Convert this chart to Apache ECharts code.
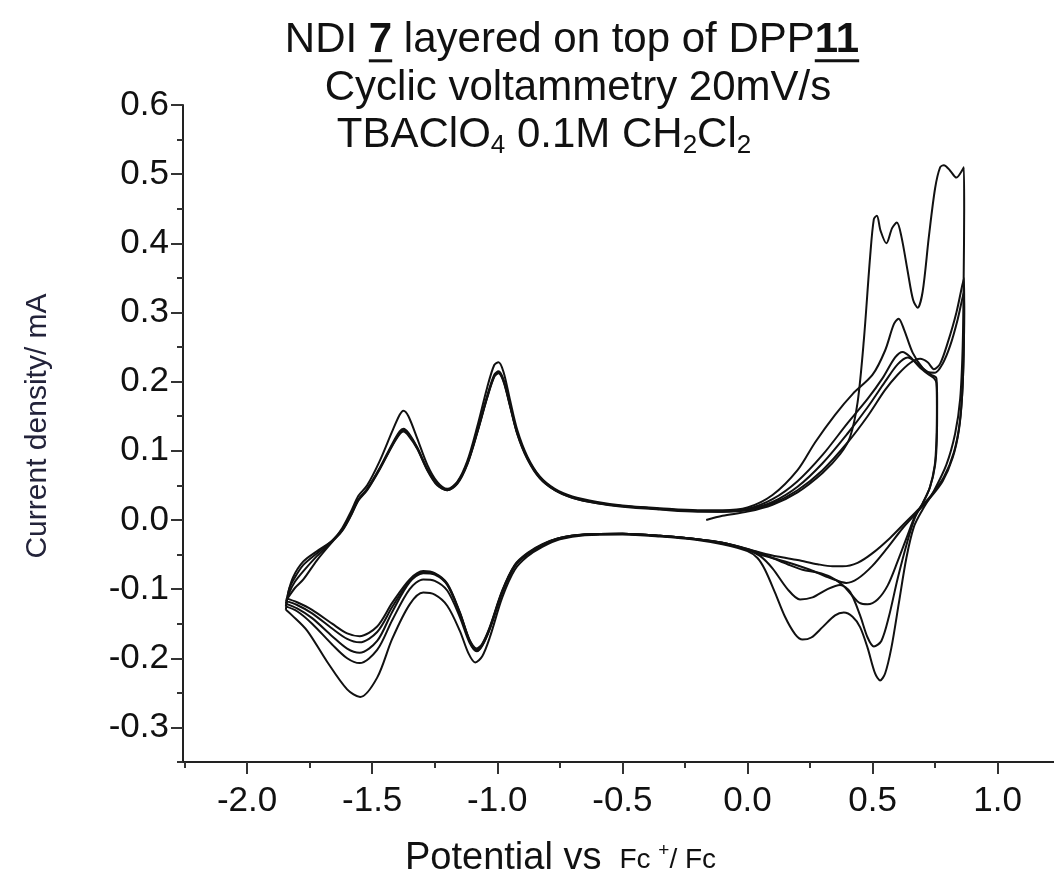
<!DOCTYPE html>
<html><head><meta charset="utf-8">
<script src="https://cdn.jsdelivr.net/npm/echarts@6/dist/echarts.min.js"></script>
<style>html,body{margin:0;padding:0;background:#fff}#chart{width:1054px;height:885px}</style>
</head><body><div id="chart"></div>
<script>
// ---------- tick values ----------
const xTicks = [-2.0, -1.5, -1.0, -0.5, 0.0, 0.5, 1.0];
const xMinorTicks = [-2.25, -1.75, -1.25, -0.75, -0.25, 0.25, 0.75];
const yTicks = [-0.3, -0.2, -0.1, 0.0, 0.1, 0.2, 0.3, 0.4, 0.5, 0.6];
const yMinorTicks = [-0.35, -0.25, -0.15, -0.05, 0.05, 0.15, 0.25, 0.35, 0.45, 0.55];

// ---------- cycle 1 ----------
const c1Forward = [[-0.165,0.000],[-0.10,0.006],[0.00,0.012],[0.10,0.022],[0.20,0.040],[0.30,0.068],[0.37,0.095],[0.41,0.120],[0.44,0.170],[0.465,0.260],[0.49,0.380],[0.505,0.435],[0.517,0.440],[0.532,0.418],[0.555,0.400],[0.578,0.422],[0.597,0.430],[0.615,0.410],[0.64,0.360],[0.662,0.318],[0.680,0.307],[0.700,0.330],[0.725,0.410],[0.750,0.480],[0.770,0.510],[0.785,0.513],[0.810,0.505],[0.835,0.495],[0.852,0.502],[0.865,0.510]];
const c1Reverse = [[0.866,0.45],[0.864,0.35],[0.860,0.25],[0.850,0.175],[0.830,0.125],[0.795,0.080],[0.745,0.042],[0.700,0.015],[0.665,-0.010],[0.635,-0.055],[0.605,-0.120],[0.575,-0.185],[0.550,-0.222],[0.530,-0.232],[0.510,-0.222],[0.480,-0.185],[0.450,-0.155],[0.420,-0.140],[0.385,-0.134],[0.350,-0.138],[0.300,-0.155],[0.255,-0.170],[0.220,-0.173],[0.190,-0.165],[0.150,-0.140],[0.110,-0.105],[0.070,-0.072],[0.040,-0.055],[0.000,-0.045],[-0.10,-0.035],[-0.20,-0.029],[-0.35,-0.024],[-0.50,-0.021],[-0.65,-0.022],[-0.75,-0.028],[-0.82,-0.039],[-0.88,-0.053],[-0.93,-0.072],[-0.98,-0.112],[-1.03,-0.170],[-1.06,-0.197],[-1.088,-0.206],[-1.115,-0.193],[-1.15,-0.160],[-1.20,-0.124],[-1.25,-0.108],[-1.296,-0.105],[-1.35,-0.122],[-1.42,-0.172],[-1.48,-0.228],[-1.548,-0.256],[-1.60,-0.245],[-1.68,-0.205],[-1.76,-0.160],[-1.82,-0.138],[-1.845,-0.130]];

// ---------- cycle 2 ----------
const c2Forward = [[-1.845,-0.130],[-1.835,-0.105],[-1.815,-0.082],[-1.775,-0.060],[-1.72,-0.045],[-1.66,-0.030],[-1.62,-0.012],[-1.585,0.012],[-1.555,0.035],[-1.52,0.050],[-1.47,0.085],[-1.42,0.128],[-1.39,0.152],[-1.375,0.158],[-1.355,0.150],[-1.32,0.118],[-1.28,0.080],[-1.24,0.055],[-1.20,0.045],[-1.16,0.055],[-1.12,0.085],[-1.08,0.135],[-1.04,0.192],[-1.012,0.224],[-0.995,0.228],[-0.975,0.214],[-0.95,0.175],[-0.92,0.130],[-0.88,0.092],[-0.83,0.063],[-0.77,0.045],[-0.70,0.034],[-0.60,0.026],[-0.50,0.021],[-0.35,0.017],[-0.20,0.014],[-0.10,0.014],[0.00,0.018],[0.10,0.036],[0.20,0.072],[0.27,0.112],[0.35,0.152],[0.42,0.182],[0.50,0.210],[0.55,0.245],[0.585,0.283],[0.604,0.291],[0.625,0.276],[0.66,0.242],[0.70,0.220],[0.735,0.210],[0.755,0.205]];
const c2Reverse = [[0.758,0.170],[0.757,0.120],[0.750,0.080],[0.730,0.048],[0.700,0.024],[0.670,0.004],[0.640,-0.030],[0.600,-0.085],[0.565,-0.140],[0.535,-0.175],[0.505,-0.183],[0.480,-0.170],[0.450,-0.138],[0.410,-0.104],[0.370,-0.094],[0.320,-0.100],[0.260,-0.112],[0.210,-0.115],[0.160,-0.100],[0.100,-0.070],[0.050,-0.052],[0.000,-0.043],[-0.10,-0.034],[-0.20,-0.028],[-0.35,-0.023],[-0.50,-0.020],[-0.65,-0.021],[-0.75,-0.027],[-0.82,-0.037],[-0.88,-0.050],[-0.93,-0.067],[-0.98,-0.105],[-1.03,-0.158],[-1.06,-0.182],[-1.082,-0.190],[-1.11,-0.178],[-1.15,-0.140],[-1.20,-0.102],[-1.25,-0.088],[-1.296,-0.086],[-1.35,-0.100],[-1.42,-0.145],[-1.48,-0.188],[-1.55,-0.207],[-1.60,-0.200],[-1.66,-0.180],[-1.74,-0.150],[-1.80,-0.132],[-1.845,-0.125]];

// ---------- cycle 3 ----------
const c3Forward = [[-1.845,-0.125],[-1.832,-0.100],[-1.812,-0.085],[-1.775,-0.065],[-1.72,-0.048],[-1.66,-0.030],[-1.62,-0.014],[-1.585,0.008],[-1.555,0.030],[-1.52,0.045],[-1.47,0.075],[-1.42,0.110],[-1.39,0.128],[-1.375,0.132],[-1.355,0.126],[-1.32,0.105],[-1.28,0.074],[-1.24,0.052],[-1.20,0.044],[-1.16,0.054],[-1.12,0.082],[-1.08,0.128],[-1.04,0.180],[-1.012,0.210],[-0.995,0.215],[-0.975,0.203],[-0.95,0.168],[-0.92,0.126],[-0.88,0.090],[-0.83,0.062],[-0.77,0.044],[-0.70,0.033],[-0.60,0.025],[-0.50,0.020],[-0.35,0.016],[-0.20,0.013],[-0.10,0.013],[0.00,0.016],[0.10,0.030],[0.20,0.056],[0.30,0.094],[0.40,0.140],[0.48,0.175],[0.54,0.205],[0.59,0.235],[0.62,0.243],[0.65,0.236],[0.69,0.220],[0.725,0.210],[0.745,0.205],[0.755,0.198]];
const c3Reverse = [[0.757,0.165],[0.755,0.115],[0.748,0.078],[0.728,0.046],[0.700,0.024],[0.670,0.006],[0.640,-0.022],[0.600,-0.060],[0.560,-0.095],[0.520,-0.115],[0.480,-0.122],[0.448,-0.120],[0.420,-0.110],[0.380,-0.094],[0.330,-0.082],[0.280,-0.076],[0.220,-0.072],[0.160,-0.064],[0.100,-0.055],[0.050,-0.048],[0.000,-0.042],[-0.10,-0.033],[-0.20,-0.028],[-0.35,-0.023],[-0.50,-0.020],[-0.65,-0.021],[-0.75,-0.026],[-0.82,-0.036],[-0.88,-0.049],[-0.93,-0.066],[-0.98,-0.104],[-1.03,-0.157],[-1.06,-0.181],[-1.082,-0.189],[-1.11,-0.176],[-1.15,-0.135],[-1.20,-0.094],[-1.25,-0.079],[-1.296,-0.077],[-1.35,-0.090],[-1.42,-0.133],[-1.48,-0.175],[-1.55,-0.192],[-1.60,-0.186],[-1.66,-0.168],[-1.74,-0.142],[-1.80,-0.128],[-1.845,-0.121]];

// ---------- cycle 4 ----------
const c4Forward = [[-1.845,-0.121],[-1.830,-0.104],[-1.810,-0.090],[-1.775,-0.074],[-1.72,-0.052],[-1.66,-0.031],[-1.62,-0.015],[-1.585,0.007],[-1.555,0.029],[-1.52,0.044],[-1.47,0.074],[-1.42,0.108],[-1.39,0.126],[-1.375,0.130],[-1.355,0.124],[-1.32,0.104],[-1.28,0.073],[-1.24,0.051],[-1.20,0.043],[-1.16,0.053],[-1.12,0.081],[-1.08,0.127],[-1.04,0.178],[-1.012,0.208],[-0.995,0.213],[-0.975,0.201],[-0.95,0.167],[-0.92,0.125],[-0.88,0.089],[-0.83,0.061],[-0.77,0.043],[-0.70,0.032],[-0.60,0.024],[-0.50,0.020],[-0.35,0.016],[-0.20,0.013],[-0.10,0.012],[0.00,0.015],[0.10,0.026],[0.20,0.048],[0.30,0.082],[0.40,0.125],[0.48,0.163],[0.55,0.200],[0.60,0.225],[0.64,0.235],[0.68,0.226],[0.72,0.214],[0.75,0.213],[0.78,0.226],[0.81,0.252],[0.84,0.290],[0.865,0.330]];
const c4Reverse = [[0.866,0.30],[0.864,0.24],[0.858,0.18],[0.845,0.13],[0.820,0.090],[0.780,0.056],[0.730,0.032],[0.680,0.012],[0.620,-0.012],[0.560,-0.040],[0.500,-0.066],[0.440,-0.085],[0.395,-0.091],[0.330,-0.084],[0.250,-0.072],[0.150,-0.060],[0.050,-0.050],[0.000,-0.043],[-0.10,-0.033],[-0.20,-0.028],[-0.35,-0.023],[-0.50,-0.020],[-0.65,-0.021],[-0.75,-0.026],[-0.82,-0.036],[-0.88,-0.049],[-0.93,-0.066],[-0.98,-0.103],[-1.03,-0.156],[-1.06,-0.180],[-1.082,-0.188],[-1.11,-0.175],[-1.15,-0.134],[-1.20,-0.093],[-1.25,-0.078],[-1.296,-0.076],[-1.35,-0.088],[-1.42,-0.126],[-1.48,-0.162],[-1.55,-0.177],[-1.60,-0.172],[-1.66,-0.157],[-1.74,-0.135],[-1.80,-0.123],[-1.845,-0.117]];

// ---------- cycle 5 ----------
const c5Forward = [[-1.845,-0.117],[-1.828,-0.108],[-1.808,-0.098],[-1.775,-0.086],[-1.72,-0.058],[-1.66,-0.032],[-1.62,-0.016],[-1.585,0.006],[-1.555,0.028],[-1.52,0.043],[-1.47,0.073],[-1.42,0.107],[-1.39,0.124],[-1.375,0.128],[-1.355,0.122],[-1.32,0.103],[-1.28,0.072],[-1.24,0.050],[-1.20,0.043],[-1.16,0.052],[-1.12,0.080],[-1.08,0.126],[-1.04,0.177],[-1.012,0.207],[-0.995,0.212],[-0.975,0.200],[-0.95,0.166],[-0.92,0.124],[-0.88,0.088],[-0.83,0.060],[-0.77,0.043],[-0.70,0.032],[-0.60,0.024],[-0.50,0.019],[-0.35,0.015],[-0.20,0.012],[-0.10,0.012],[0.00,0.014],[0.10,0.024],[0.20,0.043],[0.30,0.072],[0.40,0.112],[0.48,0.150],[0.55,0.188],[0.60,0.210],[0.65,0.227],[0.69,0.233],[0.72,0.228],[0.745,0.218],[0.77,0.226],[0.80,0.256],[0.835,0.300],[0.865,0.350]];
const c5Reverse = [[0.866,0.32],[0.865,0.26],[0.860,0.195],[0.848,0.14],[0.825,0.098],[0.785,0.062],[0.735,0.036],[0.685,0.016],[0.630,-0.004],[0.570,-0.026],[0.500,-0.048],[0.440,-0.062],[0.380,-0.067],[0.340,-0.067],[0.280,-0.064],[0.200,-0.058],[0.120,-0.053],[0.050,-0.047],[0.000,-0.042],[-0.10,-0.033],[-0.20,-0.028],[-0.35,-0.023],[-0.50,-0.020],[-0.65,-0.021],[-0.75,-0.026],[-0.82,-0.035],[-0.88,-0.048],[-0.93,-0.065],[-0.98,-0.102],[-1.03,-0.155],[-1.06,-0.179],[-1.082,-0.186],[-1.11,-0.174],[-1.15,-0.133],[-1.20,-0.092],[-1.25,-0.077],[-1.296,-0.074],[-1.35,-0.086],[-1.42,-0.120],[-1.48,-0.154],[-1.55,-0.168],[-1.60,-0.164],[-1.66,-0.150],[-1.74,-0.130],[-1.80,-0.119],[-1.845,-0.113]];

const cycles = [
  c1Forward.concat(c1Reverse),
  c2Forward.concat(c2Reverse),
  c3Forward.concat(c3Reverse),
  c4Forward.concat(c4Reverse),
  c5Forward.concat(c5Reverse)
];

const SANS = '"Liberation Sans", Arial, sans-serif';
const TITLE_SIZE = 42;

// measure text for underline placement
const mctx = document.createElement('canvas').getContext('2d');
function tw(t, bold) { mctx.font = (bold ? 'bold ' : '') + TITLE_SIZE + 'px ' + SANS; return mctx.measureText(t).width; }
const t1Parts = ['NDI ', '7', ' layered on top of DPP', '11'];
const t1Widths = [tw(t1Parts[0]), tw(t1Parts[1], true), tw(t1Parts[2]), tw(t1Parts[3], true)];
const t1Total = t1Widths.reduce((a, b) => a + b, 0);
const t1Cx = 572, t1Cy = 40;
const t1Left = t1Cx - t1Total / 2;
const ulY = t1Cy + TITLE_SIZE * 0.46;

const chart = echarts.init(document.getElementById('chart'), null, {renderer: 'canvas'});

const axisLineStyle = {color: '#222', width: 2};
const tickStyle = {color: '#333', width: 2};

chart.setOption({
  animation: false,
  backgroundColor: '#fff',
  grid: {left: 183, right: 0, top: 105, bottom: 123, containLabel: false},
  xAxis: [{
    type: 'value', min: -2.256, max: 1.225, position: 'bottom',
    axisLine: {show: true, onZero: false, lineStyle: axisLineStyle},
    axisTick: {show: true, inside: false, length: 12, lineStyle: tickStyle, customValues: xTicks},
    axisLabel: {show: true, margin: 22, customValues: xTicks, formatter: v => v.toFixed(1), fontFamily: SANS, fontSize: 35, color: '#111'},
    splitLine: {show: false},
    name: '{a|Potential vs}{g|}{b|Fc }{s|+}{b|/ Fc}',
    nameLocation: 'middle', nameGap: 76,
    nameTextStyle: {
      padding: [0, 116, 0, 0],
      rich: {
        a: {fontFamily: SANS, fontSize: 38, color: '#111', verticalAlign: 'bottom', lineHeight: 40},
        g: {width: 18, verticalAlign: 'bottom'},
        b: {fontFamily: SANS, fontSize: 28, color: '#111', verticalAlign: 'bottom', lineHeight: 32, padding: [0, 0, 4, 0]},
        s: {fontFamily: SANS, fontSize: 19, color: '#111', verticalAlign: 'bottom', lineHeight: 20, padding: [0, 0, 18, 0]}
      }
    }
  }, {
    type: 'value', min: -2.256, max: 1.225, position: 'bottom',
    axisLine: {show: false, onZero: false},
    axisTick: {show: true, inside: false, length: 6, lineStyle: tickStyle, customValues: xMinorTicks},
    axisLabel: {show: false},
    splitLine: {show: false}
  }],
  yAxis: [{
    type: 'value', min: -0.35, max: 0.6, position: 'left',
    axisLine: {show: true, onZero: false, lineStyle: axisLineStyle},
    axisTick: {show: true, inside: false, length: 12, lineStyle: tickStyle, customValues: yTicks},
    axisLabel: {show: true, margin: 14, customValues: yTicks, formatter: v => v.toFixed(1), fontFamily: SANS, fontSize: 35, color: '#111'},
    splitLine: {show: false},
    name: 'Current density/ mA',
    nameLocation: 'middle', nameRotate: 90, nameGap: 130,
    nameTextStyle: {fontFamily: SANS, fontSize: 30, color: '#23233a', padding: [0, 0, 0, 15]}
  }, {
    type: 'value', min: -0.35, max: 0.6, position: 'left',
    axisLine: {show: false, onZero: false},
    axisTick: {show: true, inside: false, length: 6, lineStyle: tickStyle, customValues: yMinorTicks},
    axisLabel: {show: false},
    splitLine: {show: false}
  }],
  graphic: [
    {type: 'text', style: {
      x: t1Left, y: t1Cy, align: 'left', verticalAlign: 'middle',
      text: '{n|' + t1Parts[0] + '}{b|' + t1Parts[1] + '}{n|' + t1Parts[2] + '}{b|' + t1Parts[3] + '}',
      rich: {
        n: {fontFamily: SANS, fontSize: TITLE_SIZE, fill: '#111', color: '#111'},
        b: {fontFamily: SANS, fontSize: TITLE_SIZE, fontWeight: 'bold', fill: '#111', color: '#111'}
      }
    }},
    {type: 'rect', shape: {x: t1Left + t1Widths[0], y: ulY, width: t1Widths[1], height: 3}, style: {fill: '#111'}},
    {type: 'rect', shape: {x: t1Left + t1Widths[0] + t1Widths[1] + t1Widths[2], y: ulY, width: t1Widths[3], height: 3}, style: {fill: '#111'}},
    {type: 'text', style: {
      x: 578, y: 88, align: 'center', verticalAlign: 'middle',
      text: 'Cyclic voltammetry 20mV/s',
      fontFamily: SANS, fontSize: TITLE_SIZE, fill: '#111'
    }},
    {type: 'text', style: {
      x: 544, y: 135, align: 'center', verticalAlign: 'middle',
      text: '{n|TBAClO}{s|4}{n| 0.1M CH}{s|2}{n|Cl}{s|2}',
      rich: {
        n: {fontFamily: SANS, fontSize: TITLE_SIZE, fill: '#111', color: '#111'},
        s: {fontFamily: SANS, fontSize: 26, fill: '#111', color: '#111', padding: [22, 0, 0, 0]}
      }
    }}
  ],
  series: cycles.map((d, i) => ({
    name: 'Cycle ' + (i + 1),
    type: 'line',
    xAxisIndex: 0, yAxisIndex: 0,
    data: d,
    showSymbol: false,
    smooth: 0.3,
    clip: true,
    lineStyle: {color: '#111', width: 2},
    emphasis: {disabled: true}
  }))
});
</script>
</body></html>
